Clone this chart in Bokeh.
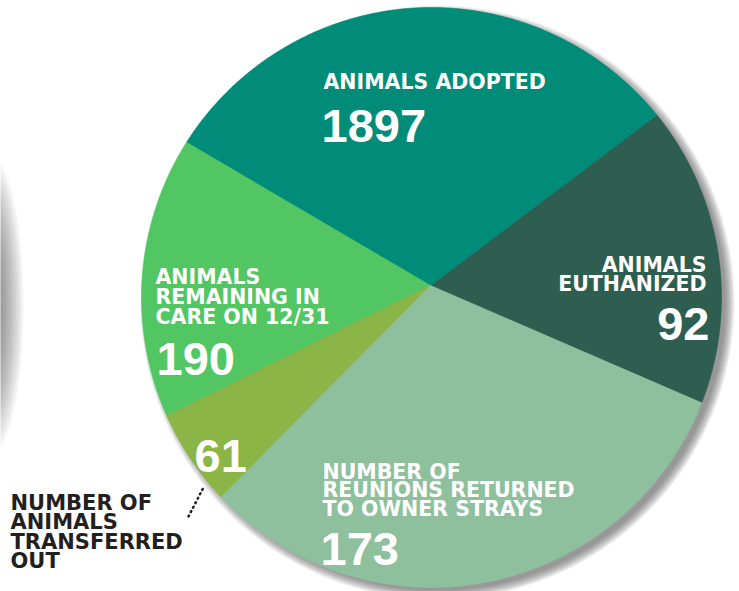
import math
from bokeh.plotting import figure
from bokeh.models import Range1d
from bokeh.core.properties import value
from bokeh.embed import file_html
from bokeh.resources import INLINE

# ---- data ----
categories = ["ANIMALS EUTHANIZED", "ANIMALS ADOPTED", "ANIMALS REMAINING IN CARE ON 12/31",
              "NUMBER OF ANIMALS TRANSFERRED OUT", "NUMBER OF REUNIONS RETURNED TO OWNER STRAYS"]
counts = [92, 1897, 190, 61, 173]
# drawn slice sizes (degrees) as they appear in the graphic (not proportional to counts)
slice_deg = [60.4, 112.6, 56.7, 19.0, 111.3]
colors = ["#2E5E50", "#008C79", "#52C663", "#8BB546", "#8FC09E"]

label_lines = {
    "ANIMALS EUTHANIZED": ["ANIMALS", "EUTHANIZED"],
    "ANIMALS ADOPTED": ["ANIMALS ADOPTED"],
    "ANIMALS REMAINING IN CARE ON 12/31": ["ANIMALS", "REMAINING IN", "CARE ON 12/31"],
    "NUMBER OF ANIMALS TRANSFERRED OUT": ["NUMBER OF", "ANIMALS", "TRANSFERRED", "OUT"],
    "NUMBER OF REUNIONS RETURNED TO OWNER STRAYS": ["NUMBER OF", "REUNIONS RETURNED", "TO OWNER STRAYS"],
}

# ---- layout (screen-pixel coordinates, y downward) ----
W, H = 739, 591
VX, VY = 430, 285          # common vertex of slices
CX, CY, R = 431, 297, 290  # outline circle
START = -23.4              # angle of first boundary (deg, counter-clockwise)

p = figure(width=W, height=H, output_backend="svg", toolbar_location=None,
           x_range=Range1d(0, W), y_range=Range1d(H, 0),
           min_border=0, outline_line_color=None)
p.axis.visible = False
p.grid.visible = False
p.background_fill_color = "white"
p.border_fill_color = "white"

# soft gray blur on the far-left edge
for k in range(22):
    p.ellipse(x=-10, y=305, width=12 + 2.6 * k, height=110 + 9 * k,
              fill_color="#303030", fill_alpha=0.035, line_color=None)

# drop shadow of the pie
for k in range(10):
    p.circle(x=CX + 6, y=CY + 5, radius=R - 2 + k,
             fill_color="#4a4a4a", fill_alpha=0.08, line_color=None)


def edge_point(theta_deg):
    t = math.radians(theta_deg)
    dx, dy = math.cos(t), -math.sin(t)
    wx, wy = VX - CX, VY - CY
    b = wx * dx + wy * dy
    c = wx * wx + wy * wy - R * R
    s = -b + math.sqrt(b * b - c)
    return VX + s * dx, VY + s * dy


xs, ys = [], []
a0 = START
for deg in slice_deg:
    a1 = a0 + deg
    n = max(8, int(deg * 2))
    px, py = [VX], [VY]
    for i in range(n + 1):
        ex, ey = edge_point(a0 + (a1 - a0) * i / n)
        px.append(ex)
        py.append(ey)
    xs.append(px)
    ys.append(py)
    a0 = a1

p.patches(xs, ys, fill_color=colors, line_color=colors, line_width=0.6)

LABEL_FONT = value("DejaVu Sans")
NUM_FONT = value("Liberation Sans")
LBL = "20.5px"


def add_lines(lines, x, y0, dy, align, color, size):
    p.text(x=[x] * len(lines), y=[y0 + i * dy for i in range(len(lines))], text=lines,
           text_font=LABEL_FONT, text_font_style="bold", text_font_size=size,
           text_color=color, text_align=align, text_baseline="alphabetic")


def add_num(v, x, y, align):
    p.text(x=[x], y=[y], text=[str(v)], text_font=NUM_FONT, text_font_style="bold",
           text_font_size="47px", text_color="white", text_align=align,
           text_baseline="alphabetic")


# Euthanized
add_lines(label_lines[categories[0]], 706, 264, 19, "right", "white", LBL)
add_num(counts[0], 709, 323, "right")
# Adopted
add_lines(label_lines[categories[1]], 323, 81, 19, "left", "white", LBL)
add_num(counts[1], 321, 125, "left")
# Remaining
add_lines(label_lines[categories[2]], 155, 276, 20, "left", "white", LBL)
add_num(counts[2], 156, 358, "left")
# Transferred
add_num(counts[3], 194, 455, "left")
add_lines(label_lines[categories[3]], 10, 502, 19.5, "left", "#231F20", "21px")
p.line(x=[188, 203], y=[516, 487], line_color="#231F20", line_width=2.5,
       line_dash="1 4", line_cap="round")
# Returned
add_lines(label_lines[categories[4]], 322, 471, 18.5, "left", "white", LBL)
add_num(counts[4], 320, 548, "left")

open("out.html", "w").write(file_html(p, INLINE))
